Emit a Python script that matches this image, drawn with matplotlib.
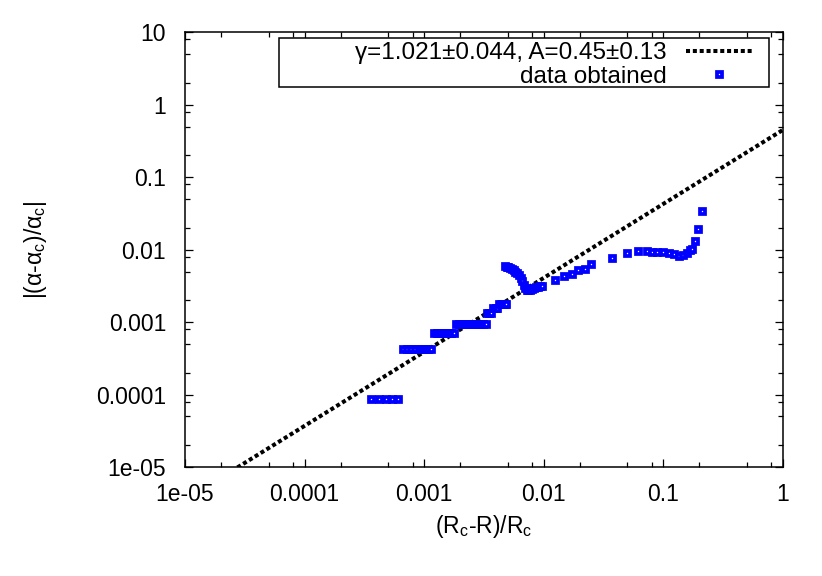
import numpy as np
import matplotlib
matplotlib.use('Agg')
import matplotlib.pyplot as plt
from matplotlib.patches import Rectangle
from matplotlib.ticker import FixedLocator, FixedFormatter, LogLocator, NullFormatter

plt.rcParams['font.family'] = ['Liberation Sans', 'DejaVu Sans']
plt.rcParams['mathtext.fontset'] = 'custom'
plt.rcParams['mathtext.rm'] = 'Liberation Sans'
plt.rcParams['mathtext.it'] = 'Liberation Sans'

# fit parameters
gamma = 1.021
A = 0.45

# data: (Rc-R)/Rc and |(a-ac)/ac|
x_data = [3.6e-4, 4.2e-4, 4.8e-4, 5.4e-4, 6.0e-4,
          6.6e-4, 7.2e-4, 7.8e-4, 8.4e-4, 9.0e-4, 9.6e-4, 1.02e-3, 1.08e-3, 1.14e-3,
          1.2e-3, 1.28e-3, 1.36e-3, 1.44e-3, 1.52e-3, 1.6e-3, 1.68e-3, 1.76e-3,
          1.84e-3, 1.96e-3, 2.08e-3, 2.2e-3, 2.34e-3, 2.48e-3, 2.62e-3, 2.78e-3, 2.94e-3, 3.1e-3, 3.26e-3,
          3.35e-3, 3.5e-3, 3.65e-3,
          3.8e-3, 3.95e-3, 4.1e-3,
          4.25e-3, 4.4e-3, 4.55e-3, 4.7e-3, 4.85e-3,
          4.75e-3, 4.9e-3, 5.05e-3, 5.2e-3, 5.4e-3, 5.6e-3, 5.8e-3, 6.0e-3, 6.2e-3, 6.4e-3,
          6.6e-3, 6.8e-3, 7.0e-3, 7.2e-3, 7.4e-3, 7.7e-3, 8.0e-3, 8.3e-3, 8.6e-3, 8.9e-3,
          9.3e-3, 9.7e-3,
          0.0124, 0.0148, 0.0172, 0.0193, 0.0221, 0.0248, 0.0372, 0.0497, 0.0614,
          0.073, 0.0804, 0.0883, 0.0993, 0.1114, 0.123, 0.135, 0.146, 0.157, 0.166,
          0.173, 0.1835, 0.1945, 0.2104]
y_data = [8.6e-5, 8.6e-5, 8.6e-5, 8.6e-5, 8.6e-5,
          4.3e-4, 4.3e-4, 4.3e-4, 4.3e-4, 4.3e-4, 4.3e-4, 4.3e-4, 4.3e-4, 4.3e-4,
          7.1e-4, 7.1e-4, 7.1e-4, 7.1e-4, 7.1e-4, 7.1e-4, 7.1e-4, 7.1e-4,
          9.4e-4, 9.4e-4, 9.4e-4, 9.4e-4, 9.4e-4, 9.4e-4, 9.4e-4, 9.4e-4, 9.4e-4, 9.4e-4, 9.4e-4,
          1.33e-3, 1.33e-3, 1.33e-3,
          1.55e-3, 1.55e-3, 1.55e-3,
          1.78e-3, 1.78e-3, 1.78e-3, 1.78e-3, 1.78e-3,
          5.9e-3, 5.85e-3, 5.8e-3, 5.6e-3, 5.4e-3, 5.2e-3, 5.0e-3, 4.8e-3, 4.5e-3, 4.1e-3,
          3.7e-3, 3.3e-3, 3.0e-3, 2.8e-3, 2.75e-3, 2.8e-3, 2.9e-3, 3.0e-3, 3.05e-3, 3.1e-3,
          3.15e-3, 3.2e-3,
          3.79e-3, 4.31e-3, 4.59e-3, 5.21e-3, 5.38e-3, 6.31e-3, 7.64e-3, 8.95e-3, 9.53e-3,
          9.5e-3, 9.3e-3, 9.3e-3, 9.3e-3, 9.0e-3, 8.7e-3, 8.2e-3, 8.4e-3, 9.0e-3, 9.9e-3,
          1.02e-2, 1.31e-2, 1.92e-2, 3.4e-2]

x_ticks = [1e-5, 1e-4, 1e-3, 1e-2, 1e-1, 1]
x_ticklabels = ['1e-05', '0.0001', '0.001', '0.01', '0.1', '1']
y_ticks = [1e-5, 1e-4, 1e-3, 1e-2, 1e-1, 1, 10]
y_ticklabels = ['1e-05', '0.0001', '0.001', '0.01', '0.1', '1', '10']

fig = plt.figure(figsize=(8.22, 5.76), dpi=100)
ax = fig.add_axes([0.225, 0.189, 0.7275, 0.755])

xf = np.array([1e-5, 1.0])
ax.plot(xf, A * xf**gamma, color='black', lw=2.9, dashes=(1, 0.7),
        label='γ=1.021±0.044, A=0.45±0.13')
ax.plot(x_data, y_data, 's', color='blue', mfc='white', mec='blue',
        ms=3.6, mew=2.7, label='data obtained')

ax.set_xscale('log')
ax.set_yscale('log')
ax.set_xlim(1e-5, 1)
ax.set_ylim(1e-5, 10)

ax.xaxis.set_major_locator(FixedLocator(x_ticks))
ax.xaxis.set_major_formatter(FixedFormatter(x_ticklabels))
ax.yaxis.set_major_locator(FixedLocator(y_ticks))
ax.yaxis.set_major_formatter(FixedFormatter(y_ticklabels))
ax.xaxis.set_minor_locator(LogLocator(base=10, subs=[2, 5, 8]))
ax.yaxis.set_minor_locator(LogLocator(base=10, subs=[2, 5, 8]))
ax.xaxis.set_minor_formatter(NullFormatter())
ax.yaxis.set_minor_formatter(NullFormatter())

ax.tick_params(which='both', direction='in', top=True, right=True, width=0.9,
               labelsize=16.5)
ax.tick_params(which='major', length=6)
ax.tick_params(which='minor', length=3.5)
ax.tick_params(axis='x', which='major', pad=11.5)
ax.tick_params(axis='y', which='major', pad=13.5)
for s in ax.spines.values():
    s.set_linewidth(1.1)

ax.set_xlabel('(R$_\\mathregular{c}$-R)/R$_\\mathregular{c}$', fontsize=16.5, labelpad=5)
ax.set_ylabel('|(α-α$_\\mathregular{c}$)/α$_\\mathregular{c}$|', fontsize=16.5, labelpad=34)

# gnuplot-style key: wide box, text right-aligned before the samples
ax.add_patch(Rectangle((0.157, 0.8736), 0.8196, 0.1126, transform=ax.transAxes,
                       facecolor='white', edgecolor='black', lw=1.1, zorder=4))
leg = ax.legend(loc='upper right', bbox_to_anchor=(0.948, 0.977), borderaxespad=0,
                markerfirst=False, numpoints=1, frameon=False,
                fontsize=17.5, handlelength=2.7,
                labelspacing=0.05, borderpad=0, handletextpad=0.8)
leg.set_zorder(5)

fig.savefig('out.png', dpi=100)
